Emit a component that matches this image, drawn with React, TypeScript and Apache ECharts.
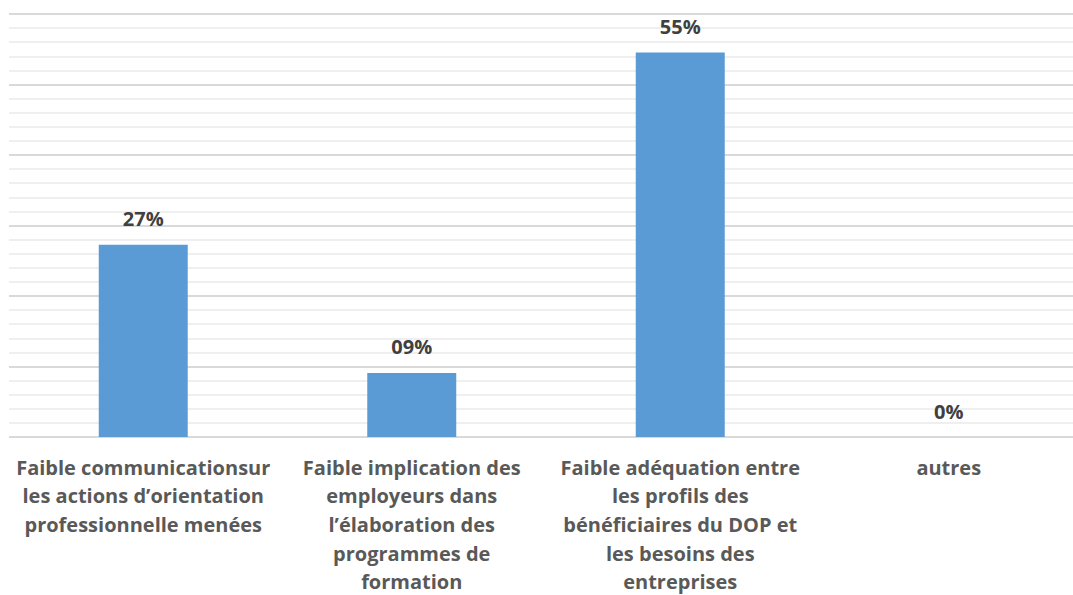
import React, { useEffect, useRef } from "react";
import * as echarts from "echarts";

const categories = [
  "Faible communicationsur\nles actions d’orientation\nprofessionnelle menées",
  "Faible implication des\nemployeurs dans\nl’élaboration des\nprogrammes de\nformation",
  "Faible adéquation entre\nles profils des\nbénéficiaires du DOP et\nles besoins des\nentreprises",
  "autres",
];
const values = [27.27, 9.09, 54.55, 0];
const valueLabels = ["27%", "09%", "55%", "0%"];

export default function App() {
  const ref = useRef<HTMLDivElement>(null);
  useEffect(() => {
    const chart = echarts.init(ref.current!, null, { renderer: "svg" });
    chart.setOption({
      animation: false,
      grid: { left: 9, top: 14, width: 1074, bottom: 158, containLabel: false, outerBoundsMode: "none" },
      xAxis: {
        type: "category",
        data: categories,
        axisLine: { show: false },
        axisTick: { show: false },
        axisLabel: {
          interval: 0,
          margin: 16,
          color: "#595959",
          fontFamily: "Open Sans",
          fontWeight: "bold",
          fontSize: 20,
          lineHeight: 28.6,
          align: "center",
        },
      },
      yAxis: {
        type: "value",
        min: 0,
        max: 60,
        interval: 10,
        axisLabel: { show: false },
        axisLine: { show: false },
        axisTick: { show: false },
        splitLine: { lineStyle: { color: "#d9d9d9", width: 2 } },
        minorTick: { show: false, splitNumber: 5 },
        minorSplitLine: { show: true, lineStyle: { color: "#efefef", width: 2 } },
      },
      series: [
        {
          type: "bar",
          data: values,
          barWidth: 89,
          itemStyle: { color: "#5b9bd5" },
          label: {
            show: true,
            position: "top",
            distance: 16,
            color: "#404040",
            fontFamily: "Open Sans",
            fontWeight: "bold",
            fontSize: 20,
            formatter: (p: any) => valueLabels[p.dataIndex],
          },
        },
      ],
    });
    return () => chart.dispose();
  }, []);
  return (
    <div
      ref={ref}
      style={{ position: "fixed", left: 0, top: 0, width: 1073, height: 595, background: "#fff" }}
    />
  );
}
